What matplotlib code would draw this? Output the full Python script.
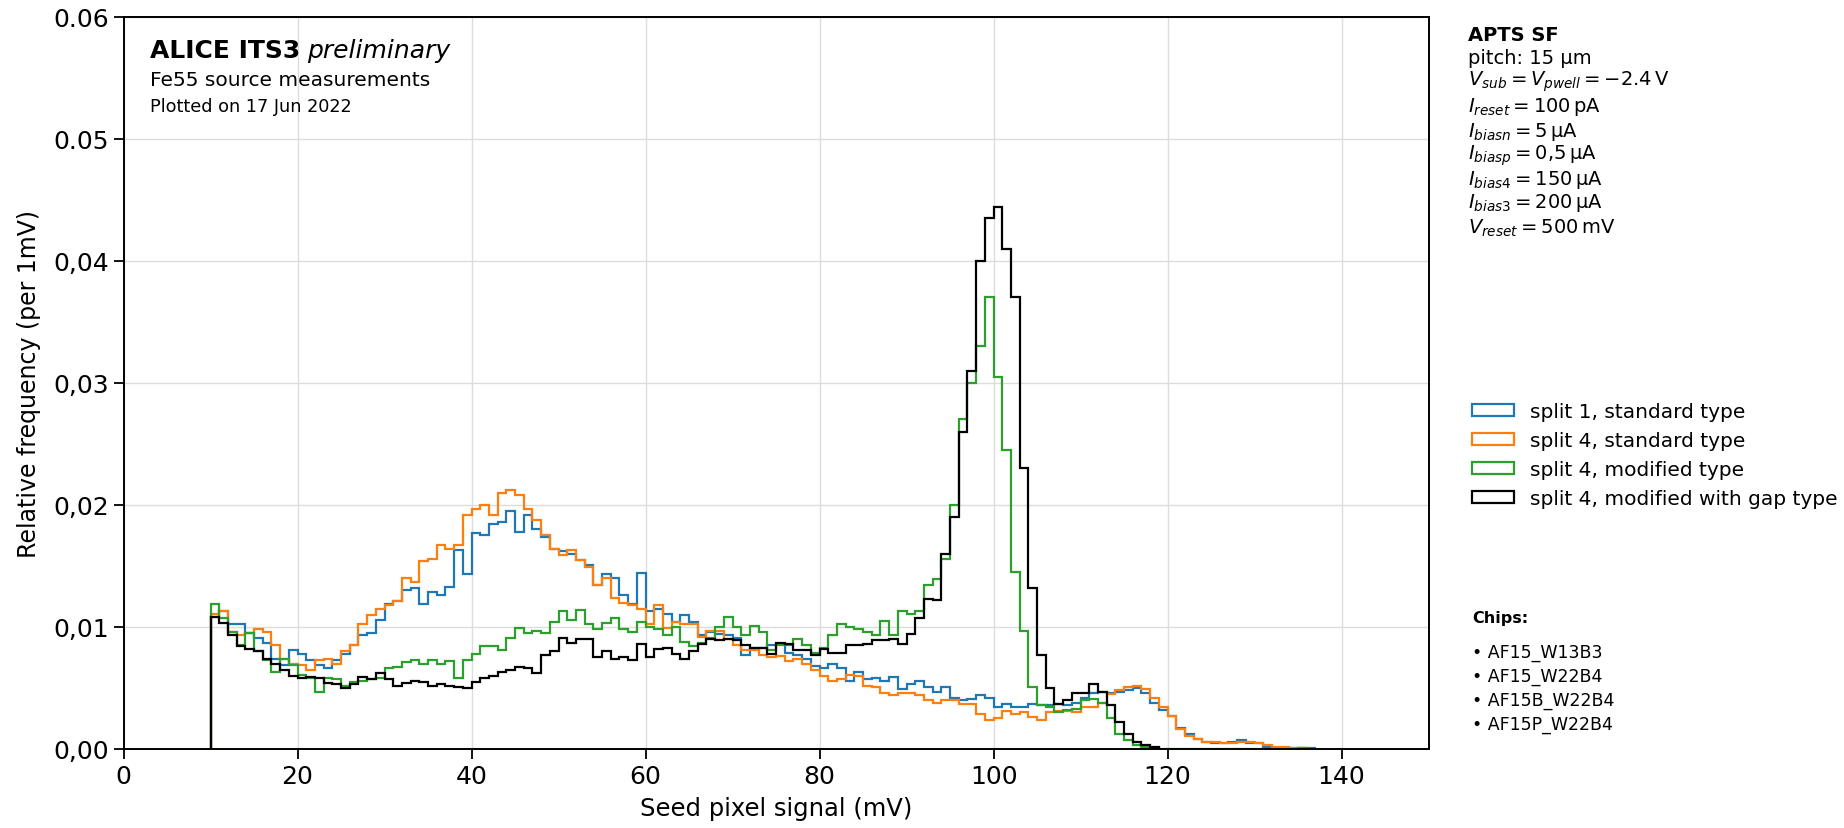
import numpy as np
import matplotlib
matplotlib.use("Agg")
import matplotlib.pyplot as plt

# Seed pixel signal histograms, 1 mV bins starting at 10 mV.
# Values are relative frequency per 1 mV, in units of 1e-4.
BIN_START = 10

split1_std = [
    108, 113, 102, 102, 95, 91, 87, 74, 69, 81,
    78, 73, 69, 66, 73, 78, 85, 93, 95, 106,
    119, 121, 130, 132, 119, 129, 126, 133, 163, 143,
    177, 175, 184, 186, 195, 178, 192, 180, 174, 164,
    162, 160, 155, 151, 134, 143, 140, 126, 119, 144,
    113, 115, 111, 104, 110, 104, 93, 96, 94, 93,
    91, 77, 83, 83, 85, 86, 79, 77, 74, 68,
    66, 70, 66, 56, 63, 57, 58, 56, 59, 49,
    53, 56, 51, 47, 51, 42, 40, 41, 44, 42,
    34, 37, 34, 34, 37, 36, 36, 37, 36, 38,
    42, 46, 47, 46, 47, 48, 50, 46, 38, 32,
    27, 17, 12, 8, 6, 5, 5, 6, 7, 5,
    5, 2, 1, 1, 1, 1, 1,
]

split4_std = [
    111, 113, 96, 93, 95, 98, 96, 85, 74, 70,
    69, 65, 73, 74, 70, 80, 85, 102, 110, 115,
    118, 121, 140, 137, 154, 156, 167, 164, 167, 192,
    197, 200, 192, 210, 212, 208, 197, 188, 175, 164,
    159, 163, 155, 149, 134, 140, 124, 120, 118, 115,
    102, 118, 99, 104, 102, 102, 92, 97, 97, 90,
    85, 81, 81, 77, 75, 76, 72, 74, 70, 65,
    60, 56, 57, 61, 60, 52, 51, 46, 44, 46,
    46, 44, 40, 38, 40, 40, 37, 37, 29, 24,
    25, 31, 29, 30, 26, 24, 30, 31, 31, 30,
    34, 34, 38, 45, 48, 51, 52, 49, 42, 34,
    27, 16, 11, 8, 6, 6, 5, 5, 6, 6,
    5, 3, 2, 2, 1, 1,
]

split4_mod = [
    119, 107, 96, 85, 95, 80, 73, 63, 74, 69,
    61, 58, 47, 58, 57, 52, 55, 56, 57, 58,
    66, 67, 71, 73, 70, 73, 70, 72, 58, 73,
    78, 84, 84, 81, 91, 99, 95, 97, 95, 104,
    113, 106, 114, 102, 98, 103, 107, 98, 96, 104,
    100, 98, 93, 100, 88, 84, 87, 91, 100, 108,
    100, 93, 101, 96, 81, 85, 85, 90, 85, 79,
    83, 93, 102, 100, 98, 96, 93, 105, 93, 113,
    111, 113, 134, 139, 156, 200, 270, 300, 330, 370,
    305, 245, 145, 97, 51, 36, 34, 30, 32, 33,
    40, 41, 38, 25, 12, 7, 3, 2, 1, 0,
    0, 0, 0, 0, 0, 0, 0, 0, 0, 0,
    0, 0, 0, 0, 0, 1,
]

split4_gap = [
    108, 103, 93, 84, 82, 80, 74, 70, 65, 60,
    58, 59, 58, 54, 53, 50, 53, 59, 57, 62,
    57, 52, 54, 56, 55, 52, 53, 52, 51, 50,
    55, 58, 60, 63, 65, 67, 66, 62, 77, 80,
    91, 87, 90, 90, 75, 80, 74, 75, 73, 86,
    75, 82, 83, 78, 74, 80, 86, 90, 89, 90,
    89, 85, 83, 83, 78, 87, 86, 81, 81, 77,
    82, 79, 79, 85, 85, 86, 89, 89, 90, 86,
    94, 107, 123, 122, 160, 190, 260, 310, 400, 435,
    444, 410, 370, 230, 132, 77, 50, 37, 40, 46,
    46, 53, 47, 36, 22, 12, 6, 3, 2,
]

series = [
    (split1_std, "tab:blue", "split 1, standard type"),
    (split4_std, "tab:orange", "split 4, standard type"),
    (split4_mod, "tab:green", "split 4, modified type"),
    (split4_gap, "black", "split 4, modified with gap type"),
]

setup_lines = [
    r"pitch: 15 µm",
    r"$V_{sub} = V_{pwell} = -2.4\,\mathrm{V}$",
    r"$I_{reset} = 100\,\mathrm{pA}$",
    r"$I_{biasn} = 5\,\mathrm{\mu A}$",
    r"$I_{biasp} = 0{,}5\,\mathrm{\mu A}$",
    r"$I_{bias4} = 150\,\mathrm{\mu A}$",
    r"$I_{bias3} = 200\,\mathrm{\mu A}$",
    r"$V_{reset} = 500\,\mathrm{mV}$",
]
chips = ["AF15_W13B3", "AF15_W22B4", "AF15B_W22B4", "AF15P_W22B4"]

yticks = [0.0, 0.01, 0.02, 0.03, 0.04, 0.05, 0.06]
ytick_labels = ["0,00", "0,01", "0,02", "0,03", "0,04", "0.05", "0.06"]

W, H = 1844, 829
fig = plt.figure(figsize=(W / 100, H / 100), dpi=100)
ax = fig.add_axes([123.5 / W, 1 - 750 / H, (1428.6 - 123.5) / W, (750 - 17.6) / H])

for vals, col, lab in series:
    v = np.array(vals) * 1e-4
    edges = np.arange(BIN_START, BIN_START + len(v) + 1)
    ax.hist(edges[:-1], bins=edges, weights=v, histtype="step",
            color=col, lw=1.6, label=lab)

ax.set_xlim(0, 150)
ax.set_ylim(0, 0.06)
ax.set_xticks(range(0, 141, 20))
ax.set_yticks(yticks)
ax.set_yticklabels(ytick_labels)
ax.grid(True, color="#dcdcdc", lw=1)
ax.set_axisbelow(True)
ax.tick_params(labelsize=18, length=7, width=1.3)
for s in ax.spines.values():
    s.set_linewidth(1.4)
ax.set_xlabel("Seed pixel signal (mV)", fontsize=17.5, labelpad=6)
ax.set_ylabel("Relative frequency (per 1mV)", fontsize=17, labelpad=9)

# ALICE label
t1 = fig.text(150 / W, 1 - 58 / H, "ALICE ITS3", fontsize=18, fontweight="bold",
              va="baseline")
ax.annotate("preliminary", xy=(1, 0), xycoords=t1, xytext=(5, 0),
            textcoords="offset points", fontsize=18, style="italic", va="bottom")
fig.text(150 / W, 1 - 86 / H, "Fe55 source measurements", fontsize=14.5, va="baseline")
fig.text(150 / W, 1 - 112 / H, "Plotted on 17 Jun 2022", fontsize=12.7, va="baseline")

# setup info on the right
xr = 1468 / W
fig.text(xr, 1 - 40.7 / H, "APTS SF", fontsize=14, fontweight="bold", va="baseline")
baselines = [64.3, 86, 111.7, 136.7, 159.3, 185, 208, 233.3]
for yb, line in zip(baselines, setup_lines):
    fig.text(xr, 1 - yb / H, line, fontsize=14, va="baseline")

handles, labels = ax.get_legend_handles_labels()
fig.legend(handles, labels, loc="upper left", bbox_to_anchor=(1472 / W, 1 - 403 / H),
           frameon=False, fontsize=14.5, borderpad=0, borderaxespad=0,
           handlelength=2.1, handleheight=0.5, handletextpad=0.8, labelspacing=0.5)

fig.text(1472 / W, 1 - 623 / H, "Chips:", fontsize=11.5, fontweight="bold", va="baseline")
for i, c in enumerate(chips):
    fig.text(1472 / W, 1 - (658 + 24 * i) / H, "• " + c, fontsize=12.5, va="baseline")

fig.savefig("out.png", dpi=100)
